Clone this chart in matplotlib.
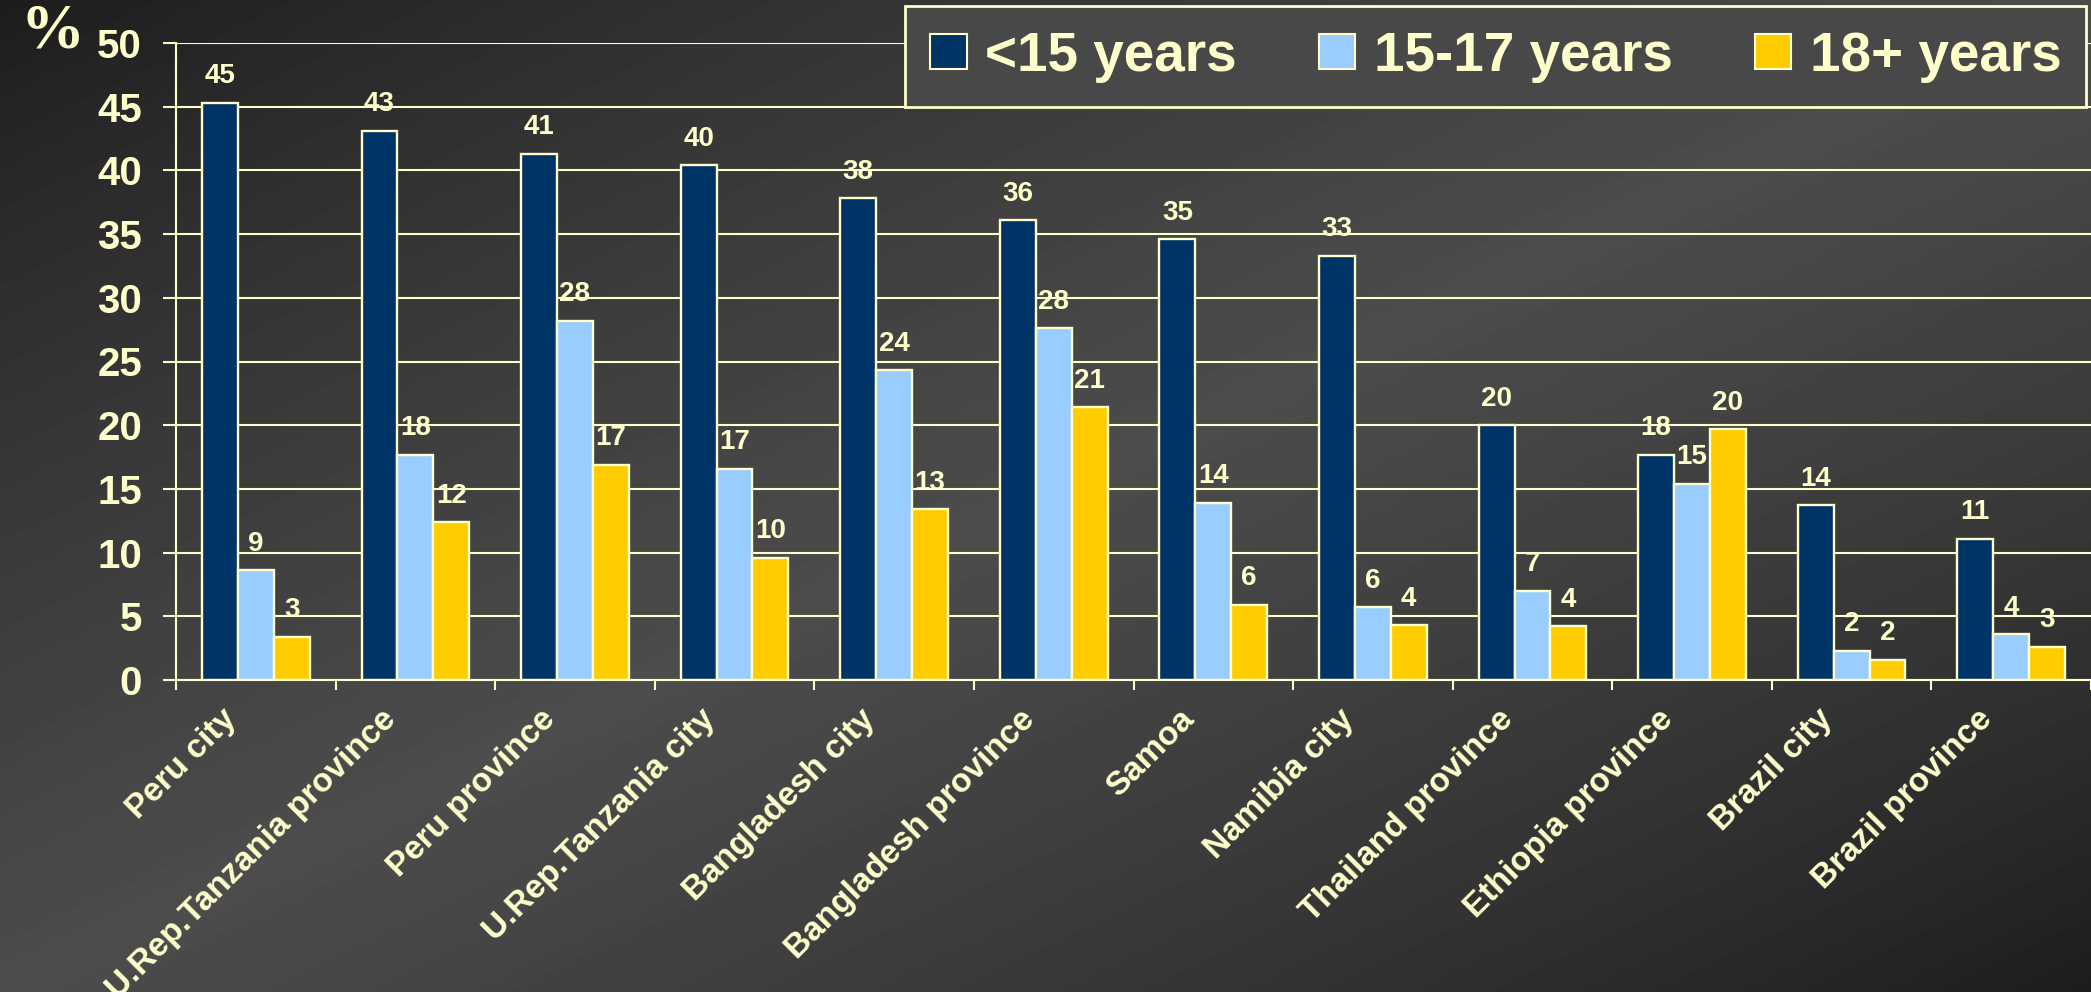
import numpy as np
import matplotlib
matplotlib.use("Agg")
from matplotlib import pyplot as plt
from matplotlib.patches import Patch

# data
categories = ["Peru city", "U.Rep.Tanzania province", "Peru province",
              "U.Rep.Tanzania city", "Bangladesh city", "Bangladesh province",
              "Samoa", "Namibia city", "Thailand province", "Ethiopia province",
              "Brazil city", "Brazil province"]
under15 = [45.3, 43.1, 41.3, 40.4, 37.8, 36.1, 34.6, 33.3, 20.0, 17.7, 13.7, 11.1]
age15_17 = [8.6, 17.7, 28.2, 16.6, 24.3, 27.6, 13.9, 5.7, 7.0, 15.4, 2.3, 3.6]
age18plus = [3.4, 12.4, 16.9, 9.6, 13.4, 21.4, 5.9, 4.3, 4.2, 19.7, 1.6, 2.6]
series_names = ["<15 years", "15-17 years", "18+ years"]
yticks = [0, 5, 10, 15, 20, 25, 30, 35, 40, 45, 50]

CREAM = "#FFFFCC"
COLORS = ["#003366", "#99CCFF", "#FFCC00"]
plt.rcParams['font.family'] = ['Liberation Sans', 'DejaVu Sans']
plt.rcParams['font.weight'] = 'bold'

W, H = 2091, 992
fig = plt.figure(figsize=(W / 100, H / 100), dpi=100)

# diagonal gradient background: dark top-left and bottom-right, lighter band in between
bg = fig.add_axes([0, 0, 1, 1], zorder=-10)
xx, yy = np.meshgrid(np.linspace(0, 1, 400), np.linspace(0, 1, 200))
u = (xx + yy) / 2
shade = 0.11 + (0.30 - 0.11) * (1 - np.abs(2 * u - 1)) ** 0.8
bg.imshow(shade, cmap='gray', vmin=0, vmax=1, aspect='auto', extent=[0, 1, 1, 0])
bg.set_axis_off()

ax = fig.add_axes([176 / W, 312 / H, 1 - 176 / W, (680 - 43) / H])
ax.set_facecolor('none')

x = np.arange(len(categories))
bw = 0.225
for i, (vals, col) in enumerate(zip([under15, age15_17, age18plus], COLORS)):
    pos = x + (i - 1) * bw
    ax.bar(pos, vals, bw, color=col, edgecolor=CREAM, linewidth=1.7, zorder=3)
    for px, v in zip(pos, vals):
        ax.annotate(f"{v:.0f}", (px, v), xytext=(0, 14), textcoords='offset points',
                    ha='center', va='baseline', color=CREAM, fontsize=20,
                    fontweight='bold', zorder=4)

ax.set_xlim(-0.5, len(categories) - 0.5)
ax.set_ylim(0, 50)
ax.set_yticks(yticks)
ax.yaxis.grid(True, color=CREAM, linewidth=1.5, zorder=0)
ax.set_axisbelow(True)
ax.tick_params(axis='y', colors=CREAM, labelsize=29, length=9.5, width=1.5, pad=15)
for lab in ax.get_yticklabels():
    lab.set_fontweight('bold')

ax.set_xticks(x - 0.15)
ax.set_xticklabels(categories, rotation=45, ha='right', va='center',
                   rotation_mode='anchor', fontsize=24, fontweight='bold', color=CREAM)
ax.tick_params(axis='x', which='major', length=0, pad=25)
ax.set_xticks(np.arange(-0.5, len(categories)), minor=True)
ax.tick_params(axis='x', which='minor', length=7, width=1.5, color=CREAM, direction='out')

for side in ['top', 'right']:
    ax.spines[side].set_visible(False)
for side in ['left', 'bottom']:
    ax.spines[side].set_color(CREAM)
    ax.spines[side].set_linewidth(1.5)
ax.spines['bottom'].set_zorder(5)

fig.text(52 / W, 1 - 33 / H, "%", family=['Liberation Serif'], fontweight='bold',
         fontsize=46, color=CREAM, ha='center', va='center')

handles = [Patch(facecolor=c, edgecolor=CREAM, linewidth=1.5) for c in COLORS]
leg = fig.legend(handles, series_names, loc='upper right', ncol=3,
                 bbox_to_anchor=(2086 / W, 1 - 6 / H), bbox_transform=fig.transFigure,
                 prop={'weight': 'bold', 'size': 39.5},
                 frameon=True, fancybox=False, borderaxespad=0,
                 handlelength=0.67, handleheight=0.62, handletextpad=0.33,
                 columnspacing=1.5, borderpad=0.45)
leg.get_frame().set_facecolor('#484848')
leg.get_frame().set_edgecolor(CREAM)
leg.get_frame().set_linewidth(2)
leg.get_frame().set_alpha(1)
for t in leg.get_texts():
    t.set_color(CREAM)

fig.savefig("out.png", dpi=100)
